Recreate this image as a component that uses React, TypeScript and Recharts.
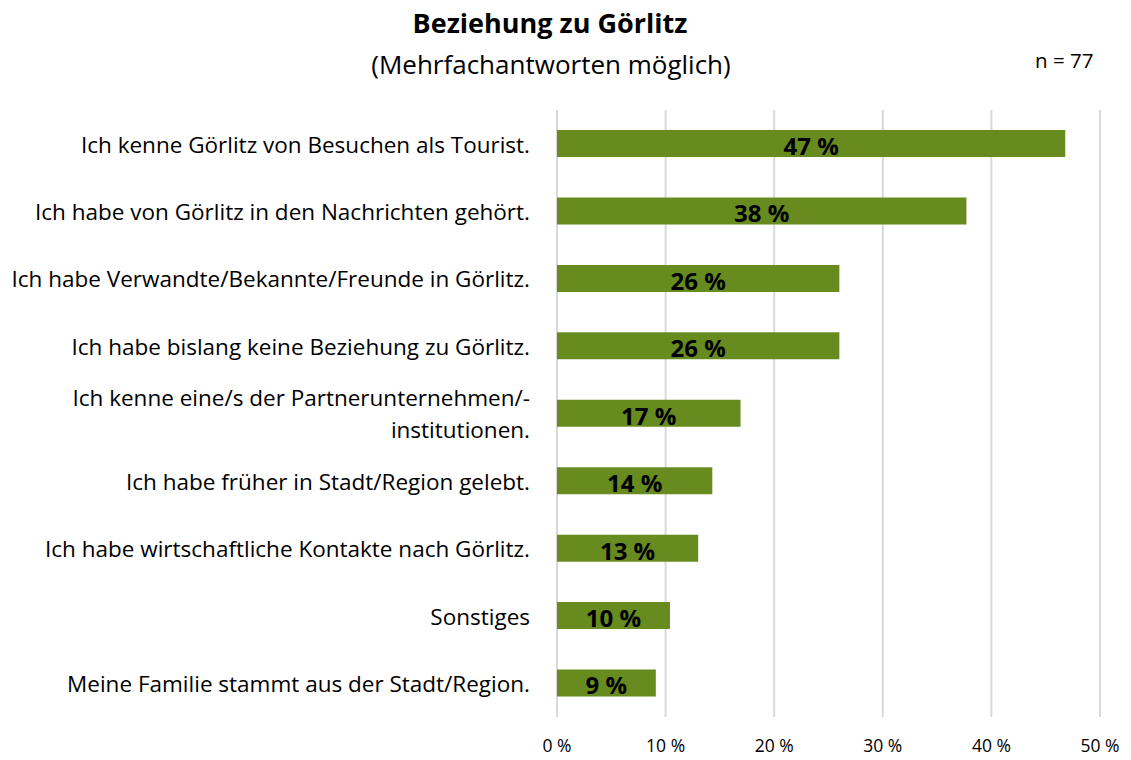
import React from "react";
import { Bar, BarChart, CartesianGrid, LabelList, XAxis, YAxis } from "recharts";

const FONT = "'Open Sans', 'Noto Sans', sans-serif";
const BAR_COLOR = "#678b1f";

const categories = [
  "Ich kenne Görlitz von Besuchen als Tourist.",
  "Ich habe von Görlitz in den Nachrichten gehört.",
  "Ich habe Verwandte/Bekannte/Freunde in Görlitz.",
  "Ich habe bislang keine Beziehung zu Görlitz.",
  "Ich kenne eine/s der Partnerunternehmen/-\ninstitutionen.",
  "Ich habe früher in Stadt/Region gelebt.",
  "Ich habe wirtschaftliche Kontakte nach Görlitz.",
  "Sonstiges",
  "Meine Familie stammt aus der Stadt/Region.",
];

const shares = [46.8, 37.7, 26.0, 26.0, 16.9, 14.3, 13.0, 10.4, 9.1];

const xTicks = [0, 10, 20, 30, 40, 50];

const data = categories.map((label, i) => ({ label, value: shares[i] }));

function CategoryTick(props: any) {
  const { x, y, payload } = props;
  const lines = String(payload.value).split("\n");
  const lineHeight = 32;
  const start = y - ((lines.length - 1) * lineHeight) / 2 + 1;
  return (
    <text x={x - 19} y={start} textAnchor="end" fill="#000" fontSize={22.5} fontFamily={FONT}>
      {lines.map((line, i) => (
        <tspan key={i} x={x - 19} y={start + i * lineHeight} dy="0.35em">
          {line}
        </tspan>
      ))}
    </text>
  );
}

function ValueLabel(props: any) {
  const { x, y, width, height, value } = props;
  return (
    <text
      x={x + width / 2}
      y={y + height / 2 + 3}
      dy="0.35em"
      textAnchor="middle"
      fill="#000"
      fontWeight="bold"
      fontSize={24}
      fontFamily={FONT}
    >
      {`${Math.round(value)} %`}
    </text>
  );
}

export default function App() {
  return (
    <div style={{ position: "absolute", left: 0, top: 0, width: 1131, height: 760, background: "#fff", fontFamily: FONT }}>
      <div style={{ position: "absolute", left: 0, width: 1100, top: 4, textAlign: "center", fontSize: 27, fontWeight: "bold", lineHeight: "37px" }}>
        Beziehung zu Görlitz
      </div>
      <div style={{ position: "absolute", left: 0, width: 1102, top: 46, textAlign: "center", fontSize: 26, lineHeight: "36px" }}>
        (Mehrfachantworten möglich)
      </div>
      <div style={{ position: "absolute", left: 1035, top: 46, fontSize: 20.5, lineHeight: "28px", whiteSpace: "pre" }}>n = 77</div>
      <BarChart
        width={1131}
        height={760}
        data={data}
        layout="vertical"
        margin={{ top: 110, right: 31, bottom: 13, left: 0 }}
        barSize={27}
      >
        <CartesianGrid horizontal={false} stroke="#d9d9d9" strokeWidth={2} />
        <XAxis
          type="number"
          domain={[0, 50]}
          ticks={xTicks}
          tickFormatter={(v) => `${v} %`}
          axisLine={false}
          tickLine={false}
          height={30}
          tick={{ fontSize: 17.5, fill: "#000", fontFamily: FONT }}
          tickMargin={17}
        />
        <YAxis
          type="category"
          dataKey="label"
          width={557}
          axisLine={false}
          tickLine={false}
          tick={<CategoryTick />}
          interval={0}
        />
        <Bar dataKey="value" fill={BAR_COLOR} isAnimationActive={false}>
          <LabelList dataKey="value" content={<ValueLabel />} />
        </Bar>
      </BarChart>
    </div>
  );
}
